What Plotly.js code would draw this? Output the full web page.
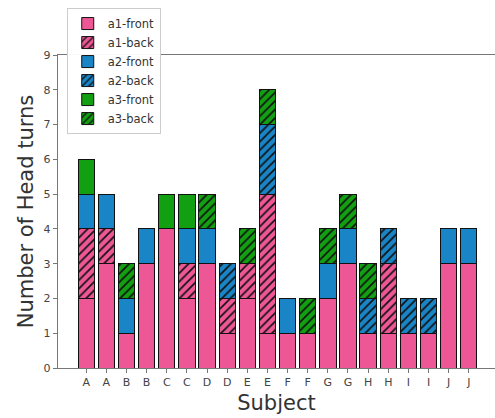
<!DOCTYPE html>
<html><head><meta charset="utf-8">
<script src="https://cdn.plot.ly/plotly-3.0.1.min.js"></script>
<style>body{margin:0;padding:0;background:#fff}#c{width:495px;height:418px}</style>
</head><body><div id="c"></div>
<script>
const subjects = ["A","A","B","B","C","C","D","D","E","E","F","F","G","G","H","H","I","I","J","J"];
const a1Front = [2,3,1,3,4,2,3,1,2,1,1,1,2,3,1,1,1,1,3,3];
const a1Back  = [2,1,0,0,0,1,0,1,1,4,0,0,0,0,0,2,0,0,0,0];
const a2Front = [1,1,1,1,0,1,1,0,0,0,1,0,1,1,0,0,0,0,1,1];
const a2Back  = [0,0,0,0,0,0,0,1,0,2,0,0,0,0,1,1,1,1,0,0];
const a3Front = [1,0,0,0,1,1,0,0,0,0,0,0,0,0,0,0,0,0,0,0];
const a3Back  = [0,0,1,0,0,0,1,0,1,1,0,1,1,1,1,0,0,0,0,0];

const PINK = "#EE5795", BLUE = "#1985C6", GREEN = "#12A012";
const xs = subjects.map((s, i) => i);

function tr(name, vals, color, hatched) {
  const marker = {color: color, line: {color: "#111", width: 1}};
  if (hatched) marker.pattern = {shape: "/", fgcolor: "#111", bgcolor: color, size: 6, solidity: 0.28, fillmode: "replace"};
  return {type: "bar", name: name, x: xs, y: vals, marker: marker, hoverinfo: "skip"};
}
const data = [
  tr("a1-front", a1Front, PINK, false),
  tr("a1-back", a1Back, PINK, true),
  tr("a2-front", a2Front, BLUE, false),
  tr("a2-back", a2Back, BLUE, true),
  tr("a3-front", a3Front, GREEN, false),
  tr("a3-back", a3Back, GREEN, true)
];
const layout = {
  width: 495, height: 418,
  margin: {l: 58, r: 0, t: 55, b: 50},
  barmode: "stack", bargap: 0.19,
  paper_bgcolor: "#fff", plot_bgcolor: "#fff",
  font: {family: "DejaVu Sans", color: "#444"},
  xaxis: {
    range: [-1.4, 20.3], tickvals: xs, ticktext: subjects,
    showline: true, linecolor: "#777", linewidth: 1.2, mirror: true,
    ticks: "outside", ticklen: 4, tickcolor: "#777", showgrid: false, zeroline: false,
    tickfont: {size: 11, color: "#444"},
    title: {text: "Subject", font: {size: 21, color: "#333"}, standoff: 6}
  },
  yaxis: {
    range: [0, 9], dtick: 1,
    showline: true, linecolor: "#777", linewidth: 1.2,
    ticks: "outside", ticklen: 4, tickcolor: "#777", showgrid: false, zeroline: false,
    tickfont: {size: 11, color: "#444"},
    title: {text: "Number of Head turns", font: {size: 21, color: "#333"}, standoff: 4}
  },
  legend: {
    x: 0.02, y: 1.15, xanchor: "left", yanchor: "top",
    bgcolor: "rgba(255,255,255,0.95)", bordercolor: "#ccc", borderwidth: 1,
    font: {size: 11.5, color: "#333"}, traceorder: "normal",
    tracegroupgap: 0, itemwidth: 30
  },
  showlegend: true
};
Plotly.newPlot("c", data, layout, {displayModeBar: false, staticPlot: true});
</script></body></html>
